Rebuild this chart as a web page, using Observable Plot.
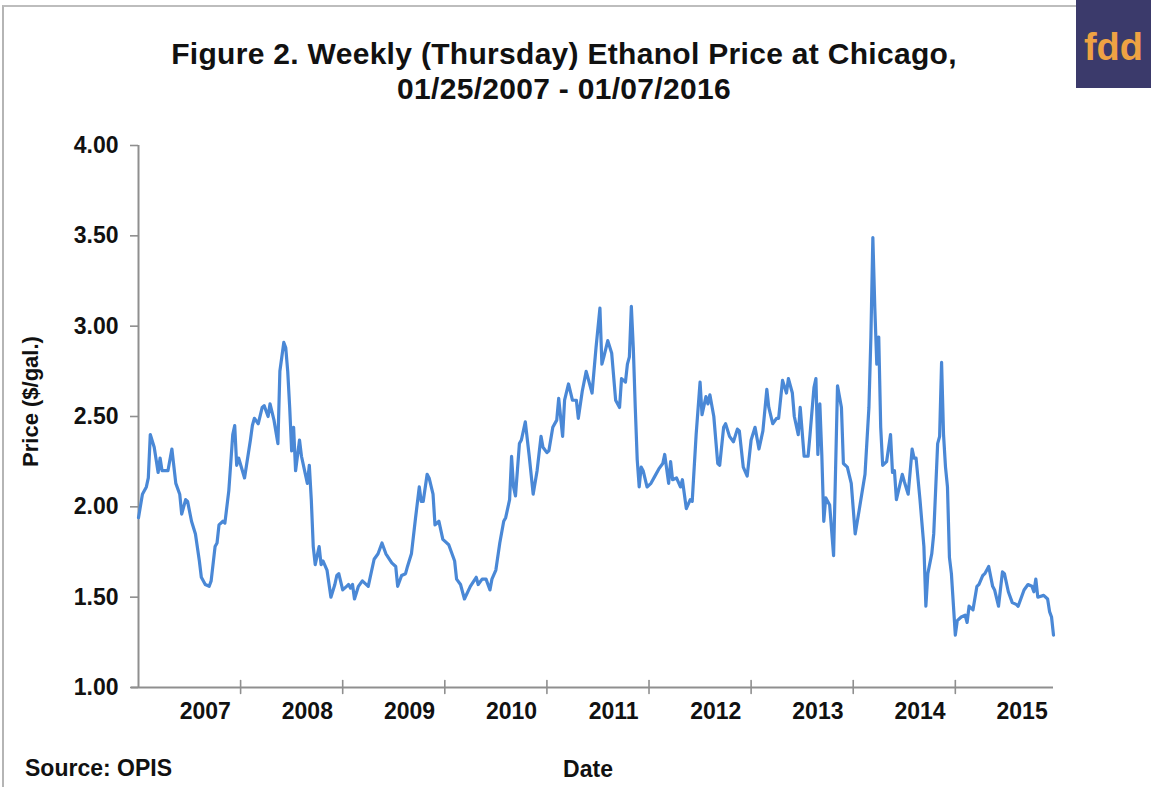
<!DOCTYPE html>
<html>
<head>
<meta charset="utf-8">
<script src="https://cdn.jsdelivr.net/npm/d3@7"></script>
<script src="https://cdn.jsdelivr.net/npm/@observablehq/plot@0.6"></script>
<style>
  body { margin: 0; background: #fff; }
  #wrap { position: relative; width: 1151px; height: 787px; overflow: hidden; background: #fff;
          font-family: "Liberation Sans", Arial, sans-serif; color: #111; }
  #border { position: absolute; left: 2px; top: 5px; width: 1160px; height: 800px;
            border-top: 2px solid #bdbdbd; border-left: 2px solid #b5b5b5; }
  #title { position: absolute; left: 0; top: 36px; width: 1128px; text-align: center;
           font-weight: bold; font-size: 30px; line-height: 35px; letter-spacing: 0.3px; }
  #logo { position: absolute; left: 1076px; top: 0; width: 75px; height: 88px; background: #3b3a6b;
          color: #eea243; font-weight: bold; font-size: 38px; line-height: 94px; text-align: center; }
  #chart { position: absolute; left: 0; top: 110px; }
  #source { position: absolute; left: 25px; top: 755px; font-weight: bold; font-size: 23px; line-height: 26px; }
</style>
</head>
<body>
<div id="wrap">
  <div id="border"></div>
  <div id="title">Figure 2. Weekly (Thursday) Ethanol Price at Chicago,<br>01/25/2007 - 01/07/2016</div>
  <div id="logo">fdd</div>
  <div id="chart"></div>
  <div id="source">Source: OPIS</div>
</div>
<script>
const weeks = [0,2,4,5,6,8,10,11,12,15,17,19,21,22,24,25,27,29,31,32,34,36,37,39,40,41,43,44,46,48,49,50,51,54,57,58,59,61,63,64,66,67,69,71,72,74,75,76,77,78,79,80,82,83,85,86,87,88,89,90,92,93,94,96,98,100,101,102,104,106,107,108,109,110,112,114,117,120,122,124,126,129,131,132,134,136,137,139,141,143,144,145,147,148,150,151,153,155,156,158,161,162,164,166,169,172,173,175,177,179,180,182,184,186,187,189,190,191,192,194,195,197,199,201,203,205,206,208,209,211,213,214,216,217,219,221,223,224,226,228,231,233,235,236,237,239,241,243,245,246,248,249,250,251,252,253,254,255,256,257,259,261,263,265,267,268,270,271,272,274,276,277,279,281,282,284,286,287,289,290,291,293,295,296,298,299,301,303,305,306,308,310,312,314,316,318,320,321,323,325,326,328,330,331,333,334,336,337,339,341,342,344,345,346,347,348,349,350,352,354,356,358,359,361,363,365,367,370,372,373,374,375,376,377,378,379,381,383,384,385,386,389,390,392,394,395,396,398,400,401,402,404,405,407,408,409,410,411,412,413,414,416,417,419,421,422,423,425,427,428,430,431,433,435,436,438,440,441,443,445,447,448,451,453,455,456,457,458,461,463,464,465,466];
const prices = [1.94,2.07,2.11,2.16,2.40,2.33,2.19,2.27,2.20,2.20,2.32,2.13,2.07,1.96,2.04,2.03,1.92,1.85,1.70,1.61,1.57,1.56,1.59,1.78,1.80,1.90,1.92,1.91,2.09,2.40,2.45,2.23,2.27,2.16,2.37,2.45,2.49,2.46,2.55,2.56,2.50,2.57,2.48,2.35,2.75,2.91,2.88,2.75,2.55,2.31,2.44,2.20,2.37,2.28,2.18,2.13,2.23,2.04,1.78,1.68,1.78,1.68,1.70,1.65,1.50,1.57,1.62,1.63,1.54,1.56,1.57,1.55,1.57,1.49,1.56,1.59,1.56,1.71,1.74,1.80,1.74,1.69,1.67,1.56,1.62,1.63,1.67,1.74,1.93,2.11,2.03,2.03,2.18,2.16,2.07,1.90,1.92,1.82,1.81,1.79,1.70,1.60,1.57,1.49,1.56,1.61,1.57,1.60,1.60,1.54,1.60,1.65,1.80,1.92,1.94,2.04,2.28,2.11,2.06,2.35,2.37,2.47,2.28,2.07,2.20,2.39,2.33,2.30,2.31,2.44,2.48,2.60,2.39,2.59,2.68,2.59,2.59,2.49,2.64,2.75,2.63,2.88,3.10,2.79,2.83,2.92,2.85,2.59,2.55,2.71,2.69,2.79,2.83,3.11,2.88,2.55,2.26,2.11,2.22,2.20,2.11,2.13,2.17,2.21,2.24,2.29,2.13,2.25,2.15,2.16,2.11,2.15,1.99,2.04,2.03,2.40,2.69,2.51,2.61,2.57,2.62,2.50,2.24,2.23,2.44,2.46,2.39,2.36,2.43,2.42,2.22,2.17,2.37,2.44,2.32,2.42,2.65,2.55,2.46,2.49,2.49,2.70,2.63,2.71,2.63,2.50,2.40,2.55,2.28,2.28,2.40,2.66,2.71,2.29,2.57,2.29,1.92,2.05,2.01,1.73,2.67,2.55,2.24,2.22,2.13,1.85,1.98,2.18,2.55,2.94,3.49,3.10,2.79,2.94,2.44,2.23,2.25,2.40,2.19,2.20,2.04,2.18,2.14,2.07,2.32,2.27,2.27,2.04,1.78,1.45,1.63,1.74,1.85,2.35,2.39,2.80,2.40,2.22,2.11,1.72,1.63,1.29,1.37,1.39,1.40,1.36,1.45,1.43,1.56,1.57,1.62,1.63,1.67,1.56,1.54,1.45,1.64,1.63,1.53,1.47,1.46,1.45,1.54,1.57,1.56,1.53,1.60,1.50,1.51,1.49,1.42,1.39,1.29];
const yearLabels = ["2007","2008","2009","2010","2011","2012","2013","2014","2015"];
const yearTickWeeks = [0,52,104,156,208,260,312,364,416];
const yTicks = [1.00,1.50,2.00,2.50,3.00,3.50,4.00];

const data = weeks.map((w, i) => ({week: w, price: prices[i]}));
const font = '"Liberation Sans", Arial, sans-serif';
const axisGray = "#8f8f8f";
const crossTick = {draw(context) { context.moveTo(0, -7); context.lineTo(0, 6); }};

const chart = Plot.plot({
  width: 1151,
  height: 677,
  marginTop: 35,
  marginBottom: 100,
  marginLeft: 138,
  marginRight: 98,
  style: {fontFamily: font, background: "transparent", color: "#111", overflow: "visible"},
  x: {domain: [0, 466], axis: null},
  y: {domain: [1, 4], axis: null},
  marks: [
    Plot.ruleY([1], {stroke: axisGray, strokeWidth: 2, insetLeft: -7}),
    Plot.ruleX([0], {stroke: axisGray, strokeWidth: 2}),
    Plot.axisY({ticks: yTicks, tickFormat: d3.format(".2f"), tickSize: 8, tickPadding: 12,
                stroke: axisGray, strokeWidth: 1.6, fill: "#111", fontSize: 23, fontWeight: "bold", label: null}),
    Plot.vectorX(yearTickWeeks.slice(1), {frameAnchor: "bottom", anchor: "start", length: 13,
                 shape: crossTick, stroke: axisGray, strokeWidth: 1.6}),
    Plot.text(yearLabels, {x: (d, i) => i * 52 + 34, frameAnchor: "bottom", dy: 31,
              fontSize: 23, fontWeight: "bold", fill: "#111"}),
    Plot.text(["Date"], {frameAnchor: "bottom", dx: -8, dy: 89, fontSize: 23, fontWeight: "bold", fill: "#111"}),
    Plot.text(["Price ($/gal.)"], {frameAnchor: "left", textAnchor: "middle", rotate: -90, dx: -108, dy: -15,
              fontSize: 22, fontWeight: "bold", fill: "#111"}),
    Plot.line(data, {x: "week", y: "price", stroke: "#4a88d6", strokeWidth: 3.2, strokeLinejoin: "round"})
  ]
});
document.getElementById("chart").appendChild(chart);
</script>
</body>
</html>
